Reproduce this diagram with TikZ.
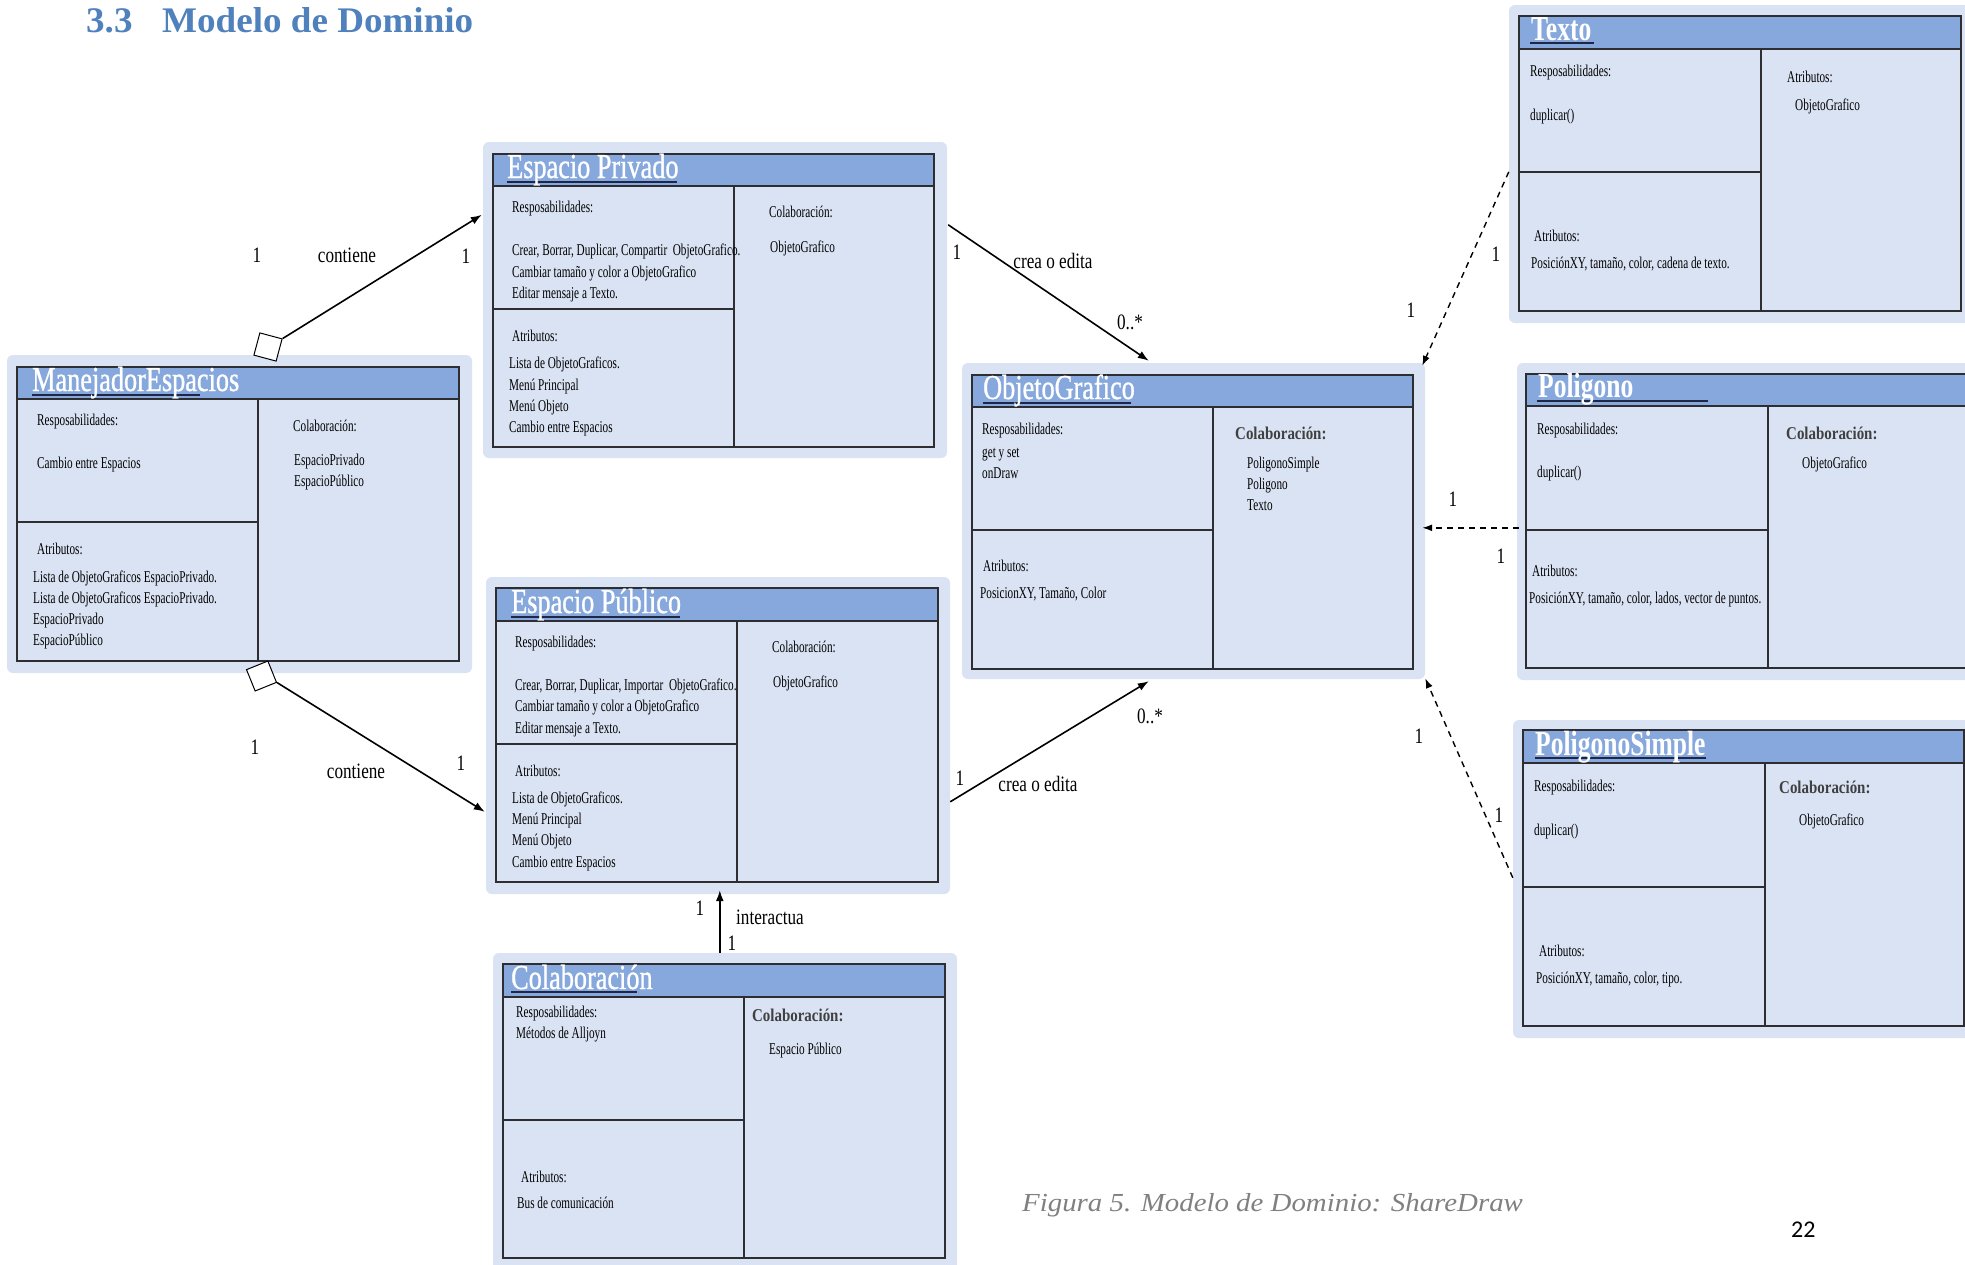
\documentclass[tikz,border=0pt]{standalone}
\usepackage{fontspec}
\setmainfont{Liberation Serif}
\newfontfamily\headf[FakeStretch=1.03]{Liberation Serif}
\newfontfamily\bodyf[FakeStretch=0.68]{Liberation Serif}
\newfontfamily\titlef[FakeStretch=0.75,FakeBold=0.8]{Liberation Serif}
\newfontfamily\titlebf[FakeStretch=0.73]{Liberation Serif}
\newfontfamily\collabf[FakeStretch=0.83]{Liberation Serif}
\newfontfamily\labelf[FakeStretch=0.78]{Liberation Serif}
\newfontfamily\capf[FakeStretch=1.11]{Liberation Serif}
\newfontfamily\pagef{Carlito}
\usetikzlibrary{fit,calc,arrows.meta}
\definecolor{cardbg}{RGB}{218,227,243}
\definecolor{hdrblue}{RGB}{134,168,220}
\definecolor{edge}{RGB}{45,45,50}
\definecolor{ulcol}{RGB}{30,40,70}
\definecolor{headcol}{RGB}{79,129,189}
\definecolor{colgray}{RGB}{64,64,64}
\definecolor{capgray}{RGB}{128,128,128}
\tikzset{
 bg/.style={fill=cardbg, rounded corners=6pt, inner sep=0pt, draw=none},
 box/.style={fill=cardbg, draw=edge, line width=1.3pt, inner sep=0pt},
 hdr/.style={fill=hdrblue, draw=edge, line width=1.3pt, inner sep=0pt},
 div/.style={draw=edge, line width=1.3pt},
 uline/.style={draw=ulcol, line width=1.3pt},
 ttl/.style={text=white, font=\titlef\fontsize{35}{40}\selectfont, anchor=base west, inner sep=0pt},
 ttlb/.style={text=white, font=\titlebf\bfseries\fontsize{35}{40}\selectfont, anchor=base west, inner sep=0pt},
 txt/.style={font=\bodyf\fontsize{16.5}{20}\selectfont, anchor=west, inner sep=0pt, text height=11pt, text depth=0pt},
 colb/.style={font=\collabf\bfseries\fontsize{18}{22}\selectfont, text=colgray, anchor=west, inner sep=0pt, text height=12pt, text depth=0pt},
 lbl/.style={font=\labelf\fontsize{22}{26}\selectfont, inner sep=0pt, text height=14pt, text depth=0pt},
 conn/.style={line width=1.6pt, -{Latex[length=11pt,width=8pt]}},
 dconn/.style={line width=1.4pt, dash pattern=on 6pt off 5pt, -{Latex[length=10pt,width=7pt]}},
 dia/.style={draw=black, fill=white, line width=1pt, minimum size=23pt, inner sep=0pt}
}
\begin{document}
\begin{tikzpicture}[x=1pt,y=-1pt]
\useasboundingbox (0,0) rectangle (1965,1264);
\fill[white] (0,0) rectangle (1965,1264);
\clip (0,0) rectangle (1965,1264);

% heading
\node[font=\headf\bfseries\fontsize{36}{40}\selectfont, text=headcol, anchor=base west, inner sep=0pt] (head) at (86,32) {\makebox[76pt][l]{3.3}Modelo de Dominio};

% ================= ManejadorEspacios
\node[bg, fit={(7,355) (472,673)}] (mo) {};
\node[box, fit={(17,367) (459,661)}] (mi) {};
\node[hdr, fit={(17,367) (459,399)}] (mh) {};
\draw[div] (258,399) -- (258,661);
\draw[div] (17,522) -- (258,522);
\draw[uline] (32,395) -- (200,395);
\node[ttl] (mt) at (32,391) {ManejadorEspacios};
\node[txt] (m1) at (37,420) {Resposabilidades:};
\node[txt] (m2) at (37,463) {Cambio entre Espacios};
\node[txt] (m3) at (37,549) {Atributos:};
\node[txt] (m4) at (33,577) {Lista de ObjetoGraficos EspacioPrivado.};
\node[txt] (m5) at (33,598) {Lista de ObjetoGraficos EspacioPrivado.};
\node[txt] (m6) at (33,619) {EspacioPrivado};
\node[txt] (m7) at (33,640) {EspacioPúblico};
\node[txt] (m8) at (293,426) {Colaboración:};
\node[txt] (m9) at (294,460) {EspacioPrivado};
\node[txt] (m10) at (294,481) {EspacioPúblico};

% ================= Espacio Privado
\node[bg, fit={(483,142) (947,458)}] (po) {};
\node[box, fit={(493,154) (934,447)}] (pi) {};
\node[hdr, fit={(493,154) (934,186)}] (ph) {};
\draw[div] (734,186) -- (734,447);
\draw[div] (493,309) -- (734,309);
\draw[uline] (507,182) -- (677,182);
\node[ttl] (pt) at (507,178) {Espacio Privado};
\node[txt] (p1) at (512,207) {Resposabilidades:};
\node[txt] (p2) at (512,250) {Crear, Borrar, Duplicar, Compartir\ \ ObjetoGrafico.};
\node[txt] (p3) at (512,272) {Cambiar tamaño y color a ObjetoGrafico};
\node[txt] (p4) at (512,293) {Editar mensaje a Texto.};
\node[txt] (p5) at (512,336) {Atributos:};
\node[txt] (p6) at (509,363) {Lista de ObjetoGraficos.};
\node[txt] (p7) at (509,385) {Menú Principal};
\node[txt] (p8) at (509,406) {Menú Objeto};
\node[txt] (p9) at (509,427) {Cambio entre Espacios};
\node[txt] (p10) at (769,212) {Colaboración:};
\node[txt] (p11) at (770,247) {ObjetoGrafico};

% ================= Espacio Publico
\node[bg, fit={(486,577) (950,894)}] (uo) {};
\node[box, fit={(496,588) (938,882)}] (ui) {};
\node[hdr, fit={(496,588) (938,621)}] (uh) {};
\draw[div] (737,621) -- (737,882);
\draw[div] (496,744) -- (737,744);
\draw[uline] (511,617) -- (680,617);
\node[ttl] (ut) at (511,613) {Espacio Público};
\node[txt] (u1) at (515,642) {Resposabilidades:};
\node[txt] (u2) at (515,685) {Crear, Borrar, Duplicar, Importar\ \ ObjetoGrafico.};
\node[txt] (u3) at (515,706) {Cambiar tamaño y color a ObjetoGrafico};
\node[txt] (u4) at (515,728) {Editar mensaje a Texto.};
\node[txt] (u5) at (515,771) {Atributos:};
\node[txt] (u6) at (512,798) {Lista de ObjetoGraficos.};
\node[txt] (u7) at (512,819) {Menú Principal};
\node[txt] (u8) at (512,840) {Menú Objeto};
\node[txt] (u9) at (512,862) {Cambio entre Espacios};
\node[txt] (u10) at (772,647) {Colaboración:};
\node[txt] (u11) at (773,682) {ObjetoGrafico};

% ================= Colaboracion
\node[bg, fit={(493,953) (957,1275)}] (co) {};
\node[box, fit={(503,964) (945,1258)}] (ci) {};
\node[hdr, fit={(503,964) (945,997)}] (ch) {};
\draw[div] (744,997) -- (744,1258);
\draw[div] (503,1120) -- (744,1120);
\draw[uline] (511,992) -- (637,992);
\node[ttl] (ct) at (511,989) {Colaboración};
\node[txt] (c1) at (516,1012) {Resposabilidades:};
\node[txt] (c2) at (516,1033) {Métodos de Alljoyn};
\node[txt] (c3) at (521,1177) {Atributos:};
\node[txt] (c4) at (517,1203) {Bus de comunicación};
\node[colb] (c5) at (752,1015) {Colaboración:};
\node[txt] (c6) at (769,1049) {Espacio Público};

% ================= ObjetoGrafico
\node[bg, fit={(962,363) (1425,679)}] (oo) {};
\node[box, fit={(972,375) (1413,669)}] (oi) {};
\node[hdr, fit={(972,375) (1413,407)}] (oh) {};
\draw[div] (1213,407) -- (1213,669);
\draw[div] (972,530) -- (1213,530);
\draw[uline] (983,403) -- (1131,403);
\node[ttl] (ot) at (983,399) {ObjetoGrafico};
\node[txt] (o1) at (982,429) {Resposabilidades:};
\node[txt] (o2) at (982,452) {get y set};
\node[txt] (o3) at (982,473) {onDraw};
\node[txt] (o4) at (983,566) {Atributos:};
\node[txt] (o5) at (980,593) {PosicionXY, Tamaño, Color};
\node[colb] (o6) at (1235,433) {Colaboración:};
\node[txt] (o7) at (1247,463) {PoligonoSimple};
\node[txt] (o8) at (1247,484) {Poligono};
\node[txt] (o9) at (1247,505) {Texto};

% ================= Texto
\node[bg, fit={(1509,5) (1980,323)}] (xo) {};
\node[box, fit={(1519,16) (1961,311)}] (xi) {};
\node[hdr, fit={(1519,16) (1961,49)}] (xh) {};
\draw[div] (1761,49) -- (1761,311);
\draw[div] (1519,172) -- (1761,172);
\draw[uline] (1530,43) -- (1594,43);
\node[ttlb] (xt) at (1531,40) {Texto};
\node[txt] (x1) at (1530,71) {Resposabilidades:};
\node[txt] (x2) at (1530,115) {duplicar()};
\node[txt] (x3) at (1534,236) {Atributos:};
\node[txt] (x4) at (1531,263) {PosiciónXY, tamaño, color, cadena de texto.};
\node[txt] (x5) at (1787,77) {Atributos:};
\node[txt] (x6) at (1795,105) {ObjetoGrafico};

% ================= Poligono
\node[bg, fit={(1517,363) (1980,680)}] (go) {};
\node[box, fit={(1526,374) (1975,668)}] (gi) {};
\node[hdr, fit={(1526,374) (1975,406)}] (gh) {};
\draw[div] (1768,406) -- (1768,668);
\draw[div] (1526,530) -- (1768,530);
\draw[uline] (1537,401) -- (1708,401);
\node[ttlb] (gt) at (1538,397) {Poligono};
\node[txt] (g1) at (1537,429) {Resposabilidades:};
\node[txt] (g2) at (1537,472) {duplicar()};
\node[txt] (g3) at (1532,571) {Atributos:};
\node[txt] (g4) at (1529,598) {PosiciónXY, tamaño, color, lados, vector de puntos.};
\node[colb] (g5) at (1786,433) {Colaboración:};
\node[txt] (g6) at (1802,463) {ObjetoGrafico};

% ================= PoligonoSimple
\node[bg, fit={(1513,720) (1980,1038)}] (so) {};
\node[box, fit={(1523,730) (1964,1026)}] (si) {};
\node[hdr, fit={(1523,730) (1964,763)}] (sh) {};
\draw[div] (1765,763) -- (1765,1026);
\draw[div] (1523,887) -- (1765,887);
\draw[uline] (1535,758) -- (1706,758);
\node[ttlb] (st) at (1535,755) {PoligonoSimple};
\node[txt] (s1) at (1534,786) {Resposabilidades:};
\node[txt] (s2) at (1534,830) {duplicar()};
\node[txt] (s3) at (1539,951) {Atributos:};
\node[txt] (s4) at (1536,978) {PosiciónXY, tamaño, color, tipo.};
\node[colb] (s5) at (1779,787) {Colaboración:};
\node[txt] (s6) at (1799,820) {ObjetoGrafico};

% ================= aggregation diamonds
\node[dia, rotate=-15] (d1) at (268,347) {};
\node[dia, rotate=22] (d2) at (261.5,676) {};

% ================= connectors
\draw[conn] (d1.north east) -- ($(po.north west)+(-1,73)$);
\draw[conn] (d2.south east) -- ($(uo.north west)+(-1,235)$);
\draw[conn] ($(po.north east)+(1,83)$) -- ($(oo.north west)+(187,-2)$);
\draw[conn] ($(uo.north east)+(0,225)$) -- ($(oo.south west)+(187,2)$);
\draw[conn] ($(co.north west)+(227,0)$) -- ($(uo.south west)+(234,-4)$);
\draw[dconn] ($(xo.north west)+(0,167)$) -- ($(oo.north east)+(-3,3)$);
\draw[dconn] ($(go.north west)+(2,165)$) -- ($(oo.north east)+(-3,165)$);
\draw[dconn] ($(so.north west)+(0,158)$) -- ($(oo.south east)+(0,-1)$);

% ================= labels
\node[lbl] (l1) at (257,255) {1};
\node[lbl] (l2) at (347,255) {contiene};
\node[lbl] (l3) at (466,256) {1};
\node[lbl] (l4) at (255,747) {1};
\node[lbl] (l5) at (356,771) {contiene};
\node[lbl] (l6) at (461,763) {1};
\node[lbl] (l7) at (957,252) {1};
\node[lbl] (l8) at (1053,261) {crea o edita};
\node[lbl] (l9) at (1130,322) {0..*};
\node[lbl] (l10) at (960,778) {1};
\node[lbl] (l11) at (1038,784) {crea o edita};
\node[lbl] (l12) at (1150,716) {0..*};
\node[lbl] (l13) at (700,908) {1};
\node[lbl] (l14) at (770,917) {interactua};
\node[lbl] (l15) at (732,943) {1};
\node[lbl] (l16) at (1496,254) {1};
\node[lbl] (l17) at (1411,310) {1};
\node[lbl] (l18) at (1453,499) {1};
\node[lbl] (l19) at (1501,556) {1};
\node[lbl] (l20) at (1419,736) {1};
\node[lbl] (l21) at (1499,815) {1};

% caption and page number
\node[font=\capf\itshape\fontsize{26}{30}\selectfont, text=capgray, anchor=west, inner sep=0pt, text height=17pt, text depth=0pt] (cap) at (1022,1203) {Figura 5. Modelo de Dominio: ShareDraw};
\node[font=\pagef\fontsize{24}{28}\selectfont, anchor=west, inner sep=0pt, text height=15pt, text depth=0pt] (pg) at (1791,1230) {22};
\end{tikzpicture}
\end{document}
